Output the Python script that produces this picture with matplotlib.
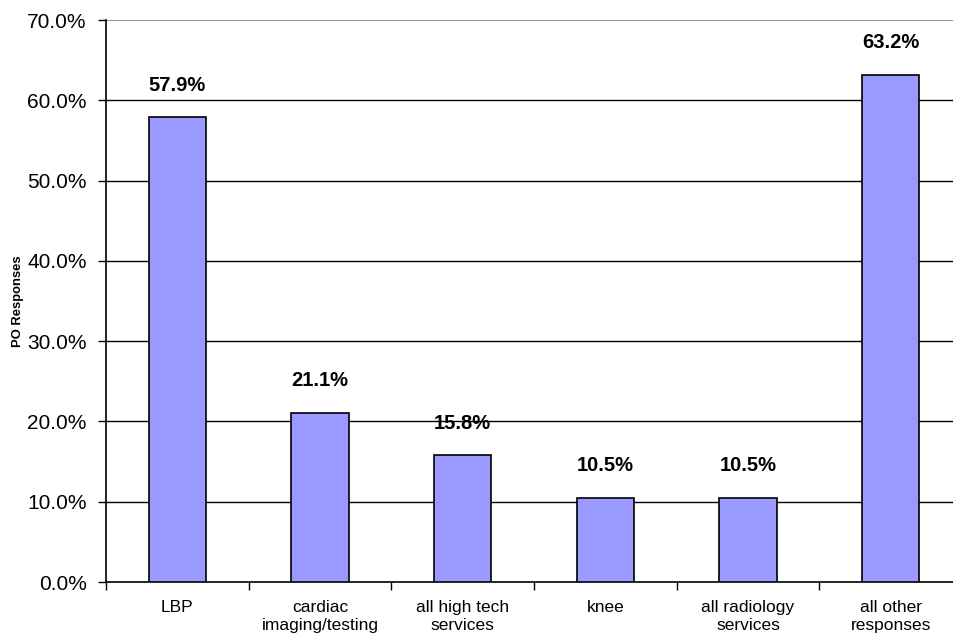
import numpy as np
import matplotlib
matplotlib.use("Agg")
from matplotlib import pyplot as plt
from matplotlib.ticker import FixedLocator, FuncFormatter

# Chart data.
categories = ["LBP", "cardiac\nimaging/testing", "all high tech\nservices",
              "knee", "all radiology\nservices", "all other\nresponses"]
values = [57.9, 21.1, 15.8, 10.5, 10.5, 63.2]
y_ticks = [0, 10, 20, 30, 40, 50, 60, 70]

plt.rcParams['font.family'] = ['Liberation Sans', 'DejaVu Sans']

def main():
  fig = plt.figure(figsize=(9.54, 6.4), dpi=100)
  # Plot area runs past the right edge, as in the cropped original.
  ax = fig.add_axes([106/954, 58/640, 856/954, 562/640])

  x = np.arange(len(categories))
  ax.bar(x, values, width=0.4, color="#9999FF", edgecolor="black",
         linewidth=1.2, zorder=3)

  # Horizontal gridlines, black; top one gray.
  for t in y_ticks[1:-1]:
    ax.axhline(t, color="black", linewidth=1, zorder=1)
  ax.axhline(y_ticks[-1], color="#808080", linewidth=1.2, zorder=1)

  # Value labels above bars.
  for xi, v in zip(x, values):
    ax.annotate("%.1f%%" % v, (xi, v), xytext=(0, 16), textcoords="offset points",
                ha="center", va="bottom", fontsize=14.5, fontweight="bold")

  ax.set_xlim(-0.5, len(categories) - 0.5)
  ax.set_ylim(0, 70)
  ax.set_yticks(y_ticks)
  ax.yaxis.set_major_formatter(FuncFormatter(lambda v, p: "%.1f%%" % v))
  ax.tick_params(axis="y", direction="out", length=6, width=1, pad=8,
                 labelsize=15, color="black")

  # Category labels at bar centers, tick marks between categories.
  ax.set_xticks(x)
  ax.set_xticklabels(categories, fontsize=12.5, linespacing=1.25)
  ax.tick_params(axis="x", which="major", length=0, pad=13)
  ax.xaxis.set_minor_locator(FixedLocator(np.arange(len(categories) + 1) - 0.5))
  ax.tick_params(axis="x", which="minor", direction="out", length=6, width=1,
                 color="black")

  ax.set_ylabel("PO Responses", fontsize=9.4, fontweight="bold", labelpad=2)

  for s in ["top", "right"]:
    ax.spines[s].set_visible(False)
  ax.spines["left"].set_linewidth(1.2)
  ax.spines["bottom"].set_linewidth(1.2)

  fig.savefig("out.png", dpi=100)

if __name__ == '__main__':
  main()
